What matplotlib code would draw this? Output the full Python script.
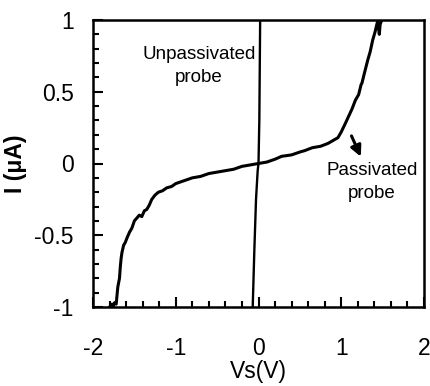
import numpy as np
import matplotlib.pyplot as plt
from matplotlib.ticker import MultipleLocator

plt.rcParams['font.family'] = ['Liberation Sans', 'DejaVu Sans']

# passivated probe I-V
v_pass = [-1.80, -1.77, -1.76, -1.74, -1.72, -1.71, -1.70, -1.68, -1.67, -1.66, -1.65,
          -1.63, -1.61, -1.59, -1.56, -1.53, -1.50, -1.47, -1.44, -1.41, -1.38, -1.35,
          -1.32, -1.29, -1.25, -1.21, -1.16, -1.11, -1.05, -1.00, -0.90, -0.80, -0.70,
          -0.60, -0.50, -0.40, -0.30, -0.20, -0.10, 0.00, 0.10, 0.20, 0.28, 0.40,
          0.50, 0.56, 0.65, 0.75, 0.84, 0.90, 0.96, 1.00, 1.05, 1.09, 1.13, 1.17,
          1.21, 1.24, 1.25, 1.28, 1.32, 1.35, 1.38, 1.41, 1.43, 1.44, 1.46, 1.47, 1.49]
i_pass = [-1.00, -0.98, -1.00, -0.97, -0.98, -0.92, -0.86, -0.80, -0.72, -0.66, -0.62,
          -0.57, -0.55, -0.52, -0.48, -0.45, -0.40, -0.38, -0.36, -0.37, -0.33, -0.32,
          -0.29, -0.25, -0.22, -0.20, -0.19, -0.17, -0.16, -0.14, -0.12, -0.10, -0.09,
          -0.07, -0.06, -0.05, -0.04, -0.02, -0.01, 0.00, 0.01, 0.03, 0.05, 0.06,
          0.08, 0.09, 0.11, 0.12, 0.14, 0.16, 0.18, 0.22, 0.28, 0.33, 0.38, 0.44,
          0.48, 0.55, 0.56, 0.63, 0.72, 0.78, 0.86, 0.92, 0.97, 0.99, 0.90, 0.97, 1.00]

# unpassivated probe
v_unpass = [-0.07, -0.05, -0.03, -0.01, 0.00, 0.01, 0.02]
i_unpass = [-1.00, -0.60, -0.25, -0.05, 0.00, 0.30, 1.00]

x_ticks = [-2, -1, 0, 1, 2]
x_labels = ['-2', '-1', '0', '1', '2']
y_ticks = [-1, -0.5, 0, 0.5, 1]
y_labels = ['-1', '-0.5', '0', '0.5', '1']

fig = plt.figure(figsize=(4.3, 3.86), dpi=100)
ax = fig.add_axes([93 / 430, 1 - 307 / 386, 331 / 430, 287 / 386])

ax.plot(v_pass, i_pass, color='black', lw=2.2)
ax.plot(v_unpass, i_unpass, color='black', lw=1.7)

ax.set_xlim(-2, 2)
ax.set_ylim(-1, 1)
ax.set_xticks(x_ticks, x_labels)
ax.set_yticks(y_ticks, y_labels)
ax.xaxis.set_minor_locator(MultipleLocator(0.2))
ax.yaxis.set_minor_locator(MultipleLocator(0.1))
ax.tick_params(which='both', direction='in', top=False, right=False, width=1.5)
ax.tick_params(which='major', length=7, labelsize=16.5)
ax.tick_params(which='minor', length=4)
ax.tick_params(axis='x', which='major', pad=21.5)
ax.tick_params(axis='y', which='major', pad=14)
for s in ax.spines.values():
    s.set_linewidth(1.8)

ax.set_xlabel('Vs(V)', fontsize=16.5, labelpad=0)
ax.set_ylabel('I (\u03bcA)', fontsize=16.5, fontweight='bold', labelpad=5)

ax.text(-0.72, 0.68, 'Unpassivated\nprobe', ha='center', va='center', fontsize=13.5,
        linespacing=1.45)
ax.text(1.37, -0.13, 'Passivated\nprobe', ha='center', va='center', fontsize=13.5,
        linespacing=1.45)
ax.annotate('', xy=(1.25, 0.03), xytext=(1.11, 0.21),
            arrowprops=dict(arrowstyle='-|>', color='black', lw=2.2, mutation_scale=16))

fig.savefig('out.png', dpi=100)
